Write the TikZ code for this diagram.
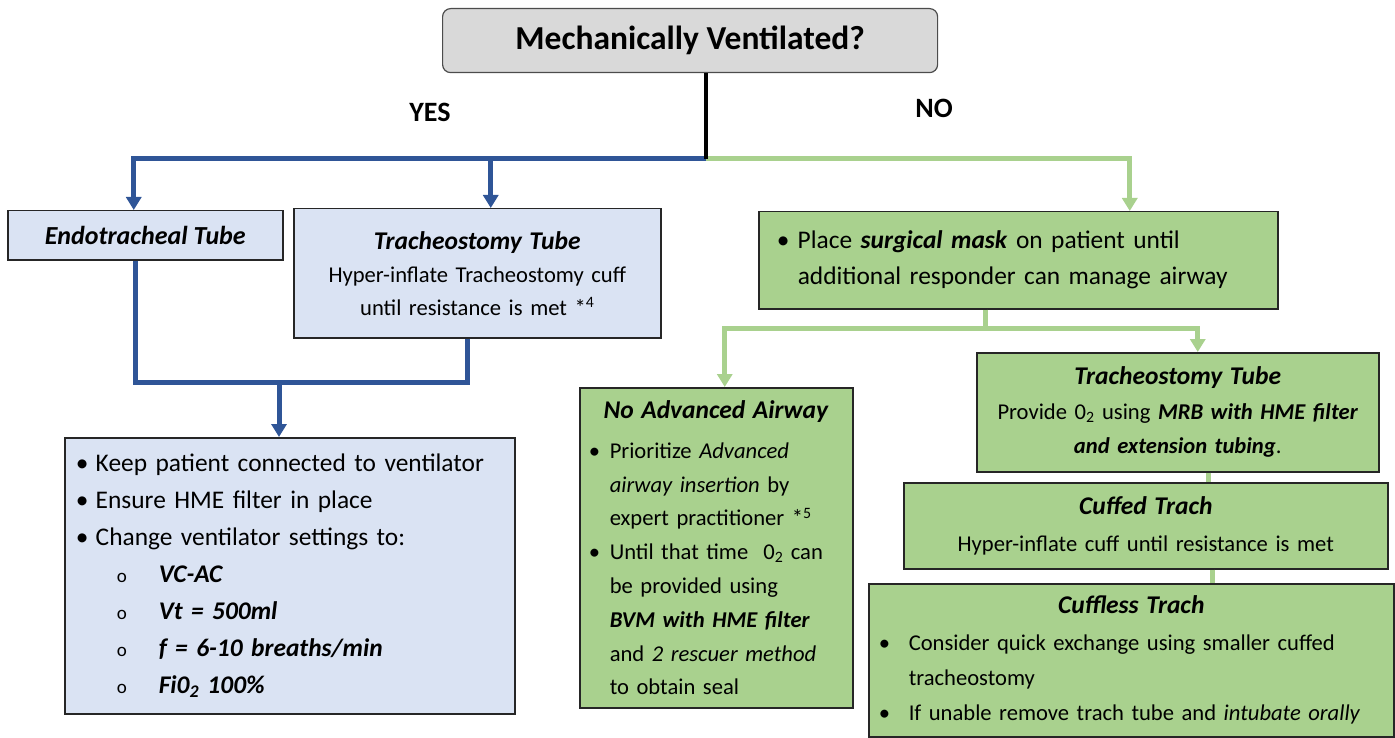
\documentclass[tikz,border=0pt]{standalone}
\usepackage{fontspec}
\setmainfont{Carlito}
\usetikzlibrary{arrows.meta}
\definecolor{boxblue}{HTML}{DAE3F3}
\definecolor{lineblue}{HTML}{2F5597}
\definecolor{boxgreen}{HTML}{A9D18E}
\definecolor{boxgray}{HTML}{D9D9D9}
\newcommand{\bi}[1]{\textbf{\textit{#1}}}
\newcommand{\hd}[1]{{\fontsize{25.5}{33}\selectfont\bi{#1}}}
\newcommand{\bul}[1]{\makebox[#1][l]{\textbullet}}
\newcommand{\subo}{\hspace*{41pt}\makebox[42pt][l]{\fontsize{19}{19}\selectfont o}}
\tikzset{
	box/.style={draw=black!85, line width=1.5pt, anchor=north west, inner sep=0pt},
	bluebox/.style={box, fill=boxblue},
	greenbox/.style={box, fill=boxgreen},
	blueline/.style={draw=lineblue, line width=5pt},
	greenline/.style={draw=boxgreen, line width=5pt},
	tip/.style={-{Triangle[width=15pt,length=13pt]}},
	lbl/.style={font=\fontsize{28}{28}\selectfont\bfseries}
}
\begin{document}
\begin{tikzpicture}[x=1pt, y=-1pt]
			\useasboundingbox (0,0) rectangle (1395,738);
			\node[draw=black!70, line width=1.2pt, rounded corners=8pt, fill=boxgray, anchor=north west, minimum width=495pt, minimum height=64pt, font=\fontsize{33.5}{33.5}\selectfont\bfseries] (mech) at (442,8) {Mechanically Ventilated?};
			\node[lbl] (yes) at (430,112) {YES};
			\node[lbl] (no) at (934,108) {NO};
			\coordinate (split) at (706,159);
			\node[bluebox, minimum width=275pt, minimum height=49pt, font=\fontsize{26}{26}\selectfont] (endo) at (7,210) {\bi{Endotracheal Tube}};
			\node[bluebox, minimum width=367pt, minimum height=129pt, text width=367pt, align=center, font=\fontsize{22.6}{33}\selectfont] (trachA) at (293,208) {\hd{Tracheostomy Tube}\\Hyper-inflate Tracheostomy cuff\\until resistance is met *\textsuperscript{4}};
			\node[bluebox, minimum width=450pt, minimum height=276pt, text width=428pt, inner xsep=11pt, align=left, font=\fontsize{25.4}{37}\selectfont] (vent) at (64,437) {\bul{20pt}Keep patient connected to ventilator\\
				\bul{20pt}Ensure HME filter in place\\
				\bul{20pt}Change ventilator settings to:\\
				\subo\bi{VC-AC}\\
				\subo\bi{Vt = 500ml}\\
				\subo\bi{f = 6-10 breaths/min}\\
				\subo\bi{Fi0\textsubscript{2} 100\%}};
			\node[greenbox, minimum width=519pt, minimum height=97pt, text width=483pt, inner xsep=18pt, align=left, font=\fontsize{25.4}{36}\selectfont] (mask) at (758,211) {\bul{21pt}Place \bi{surgical mask} on patient until\\
				\hspace*{21pt}additional responder can manage airway};
			\coordinate (fork) at (985,328);
			\node[greenbox, minimum width=273pt, minimum height=320pt, text width=255pt, inner xsep=9pt, align=left, font=\fontsize{22.6}{33.8}\selectfont] (naa) at (579,387) {\makebox[255pt][c]{\hd{No Advanced Airway}}\\[6pt]
				\bul{21pt}Prioritize \textit{Advanced}\\
				\hspace*{21pt}\textit{airway insertion} by\\
				\hspace*{21pt}expert practitioner *\textsuperscript{5}\\
				\bul{21pt}Until that time~~0\textsubscript{2} can\\
				\hspace*{21pt}be provided using\\
				\hspace*{21pt}\bi{BVM with HME filter}\\
				\hspace*{21pt}and \textit{2 rescuer method}\\
				\hspace*{21pt}to obtain seal};
			\node[greenbox, minimum width=402pt, minimum height=119pt, text width=402pt, align=center, font=\fontsize{22.6}{34.5}\selectfont] (trachB) at (976,352) {\hd{Tracheostomy Tube}\\Provide 0\textsubscript{2} using \bi{MRB with HME filter}\\\bi{and extension tubing}.};
			\node[greenbox, minimum width=484pt, minimum height=86pt, text width=484pt, align=center, font=\fontsize{22.6}{37}\selectfont] (cuffed) at (903,482) {\hd{Cuffed Trach}\\Hyper-inflate cuff until resistance is met};
			\node[greenbox, minimum width=525pt, minimum height=153pt, text width=505pt, inner xsep=10pt, align=left, font=\fontsize{22.6}{35}\selectfont] (cuffless) at (868,583) {\makebox[505pt][c]{\hd{Cuffless Trach}}\\[2pt]
				\bul{30pt}Consider quick exchange using smaller cuffed\\
				\hspace*{30pt}tracheostomy\\
				\bul{30pt}If unable remove trach tube and \textit{intubate orally}};
			\draw[blueline, tip] (split) -| ([xshift=-11.5pt]endo.north);
			\draw[blueline, tip] (split) -| ([xshift=13.5pt]trachA.north);
			\coordinate (merge) at (279,382);
			\draw[blueline] ([xshift=-9.5pt]endo.south) |- (merge) -| ([xshift=-9.5pt]trachA.south);
			\draw[blueline, tip] (merge) -- (merge |- vent.north);
			\draw[greenline, tip] (split) -| ([xshift=111.5pt]mask.north);
			\draw[black, line width=4pt] (split |- mech.south) -- (split);
			\draw[greenline] (fork |- mask.south) -- (fork);
			\draw[greenline, tip] (fork) -| ([xshift=8.5pt]naa.north);
			\draw[greenline, tip] (fork) -| ([xshift=20pt]trachB.north);
			\draw[greenline] ([xshift=31pt]trachB.south) -- ([xshift=31pt]trachB.south |- cuffed.north);
			\draw[greenline] ([xshift=67pt]cuffed.south) -- ([xshift=67pt]cuffed.south |- cuffless.north);
\end{tikzpicture}
\end{document}
